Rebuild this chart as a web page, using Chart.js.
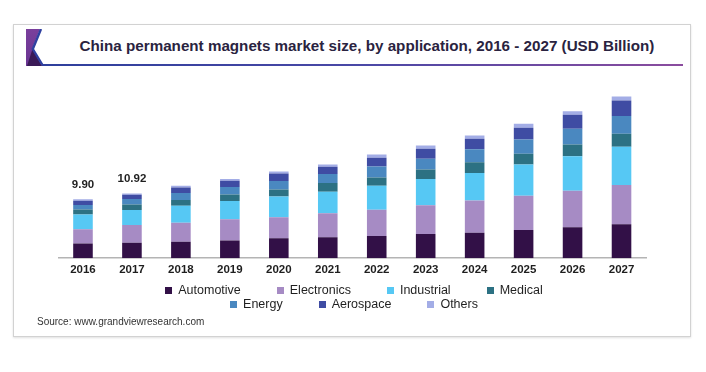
<!DOCTYPE html>
<html>
<head>
<meta charset="utf-8">
<script src="https://cdn.jsdelivr.net/npm/chart.js@4.4.0/dist/chart.umd.min.js"></script>
<style>
  html, body { margin:0; padding:0; background:#fff; }
  body { width:706px; height:372px; position:relative; overflow:hidden; font-family:"Liberation Sans", Arial, sans-serif; }
  #frame { position:absolute; left:13px; top:24px; width:678px; height:313px; border:1px solid #d2d2d2; box-shadow:0 1px 2px rgba(0,0,0,0.12); box-sizing:border-box; }
  #icon { position:absolute; left:26px; top:29px; width:22px; height:38px; }
  #title { position:absolute; left:0; width:734px; top:37px; text-align:center; font-weight:bold; font-size:15.2px; color:#2a2340; white-space:nowrap; }
  #rule { position:absolute; left:42px; top:64px; width:641px; height:2px; background:linear-gradient(90deg,#2e3f9c 0%,#4a48a6 50%,#8b4c9e 100%); }
  #wrap { position:absolute; left:0; top:0; width:706px; height:372px; }
  .lrow { position:absolute; left:0; width:708px; display:flex; justify-content:center; font-size:12.5px; color:#1f1f1f; line-height:14px; }
  .li { display:flex; align-items:center; margin:0 18px; white-space:nowrap; }
  .lb { width:7px; height:7px; margin-right:6px; display:inline-block; }
  #source { position:absolute; left:37px; top:316px; font-size:10px; color:#333; }
</style>
</head>
<body>
<div id="frame"></div>
<svg id="icon" viewBox="0 0 22 38" width="22" height="38">
  <defs>
    <linearGradient id="pg" x1="0" y1="0" x2="0" y2="1">
      <stop offset="0" stop-color="#7a3f9c"/>
      <stop offset="1" stop-color="#6a3592"/>
    </linearGradient>
  </defs>
  <polygon points="0,0 14,0 6,20 16,37 0,37" fill="url(#pg)"/>
  <polygon points="1,37 6.5,20 16,37" fill="#3a1a57"/>
  <polyline points="15,0 6.8,20 16.5,36" fill="none" stroke="#2f40a0" stroke-width="2.4"/>
</svg>
<div id="title">China permanent magnets market size, by application, 2016 - 2027 (USD Billion)</div>
<div id="rule"></div>
<div id="wrap"><canvas id="c" width="706" height="372"></canvas></div>
<div class="lrow" id="row1" style="top:283px"></div>
<div class="lrow" id="row2" style="top:297px"></div>
<div id="source">Source: www.grandviewresearch.com</div>
<script>
const years = ['2016','2017','2018','2019','2020','2021','2022','2023','2024','2025','2026','2027'];
const automotive  = [2.48, 2.59, 2.76, 3.00, 3.34, 3.51, 3.73, 4.07, 4.29, 4.75, 5.20, 5.71];
const electronics = [2.41, 3.00, 3.22, 3.56, 3.56, 4.07, 4.41, 4.86, 5.42, 5.76, 6.15, 6.61];
const industrial  = [2.48, 2.54, 2.83, 3.05, 3.49, 3.61, 4.07, 4.41, 4.64, 5.25, 5.81, 6.44];
const medical     = [0.84, 0.90, 0.97, 1.12, 1.19, 1.47, 1.36, 1.58, 1.80, 1.81, 1.98, 2.20];
const energy      = [0.73, 0.92, 1.19, 1.25, 1.42, 1.53, 1.86, 1.81, 2.20, 2.42, 2.66, 2.98];
const aerospace   = [0.73, 0.73, 0.95, 1.07, 1.24, 1.19, 1.47, 1.69, 1.76, 1.98, 2.37, 2.61];
const others      = [0.24, 0.22, 0.29, 0.29, 0.34, 0.39, 0.56, 0.56, 0.56, 0.68, 0.56, 0.68];
const totalLabels = ['9.90', '10.92', '', '', '', '', '', '', '', '', '', ''];

const seriesNames  = ['Automotive','Electronics','Industrial','Medical','Energy','Aerospace','Others'];
const seriesValues = [automotive, electronics, industrial, medical, energy, aerospace, others];
const seriesColors = ['#321047','#a68bc4','#56c8f4','#2c7183','#4a88c0','#3f4ca3','#a3ade6'];

const datasets = seriesNames.map((n, i) => ({
  label: n, data: seriesValues[i], backgroundColor: seriesColors[i],
  borderWidth: 0, barPercentage: 0.4, categoryPercentage: 1.0
}));

const topLabels = {
  id: 'topLabels',
  afterDatasetsDraw(chart) {
    const ctx = chart.ctx;
    const meta = chart.getDatasetMeta(chart.data.datasets.length - 1);
    ctx.save();
    ctx.font = 'bold 11.5px "Liberation Sans", Arial, sans-serif';
    ctx.fillStyle = '#1f1f1f';
    ctx.textAlign = 'center';
    ctx.textBaseline = 'middle';
    totalLabels.forEach((t, i) => {
      if (!t) return;
      const el = meta.data[i];
      ctx.fillText(t, el.x, el.y - 15);
    });
    ctx.restore();
  }
};

const chart = new Chart(document.getElementById('c'), {
  type: 'bar',
  data: { labels: years, datasets },
  options: {
    responsive: false, animation: false, devicePixelRatio: 1,
    layout: { padding: { left: 58.5, right: 60, top: 80, bottom: 90 } },
    plugins: { legend: { display: false }, tooltip: { enabled: false } },
    scales: {
      x: { stacked: true,
           grid: { display: false, drawTicks: false },
           border: { display: true, color: '#b4b4b4', width: 1.5 },
           ticks: { color: '#1e1e1e', padding: 5, font: { family: '"Liberation Sans", Arial, sans-serif', size: 11.5, weight: 'bold' } } },
      y: { stacked: true, display: false, min: 0, max: 30 }
    }
  },
  plugins: [topLabels]
});

// HTML legend built from the chart datasets
const rows = [document.getElementById('row1'), document.getElementById('row2')];
chart.data.datasets.forEach((ds, i) => {
  const item = document.createElement('div');
  item.className = 'li';
  const b = document.createElement('span');
  b.className = 'lb';
  b.style.background = ds.backgroundColor;
  const t = document.createElement('span');
  t.textContent = ds.label;
  item.appendChild(b); item.appendChild(t);
  rows[i < 4 ? 0 : 1].appendChild(item);
});
</script>
</body>
</html>
